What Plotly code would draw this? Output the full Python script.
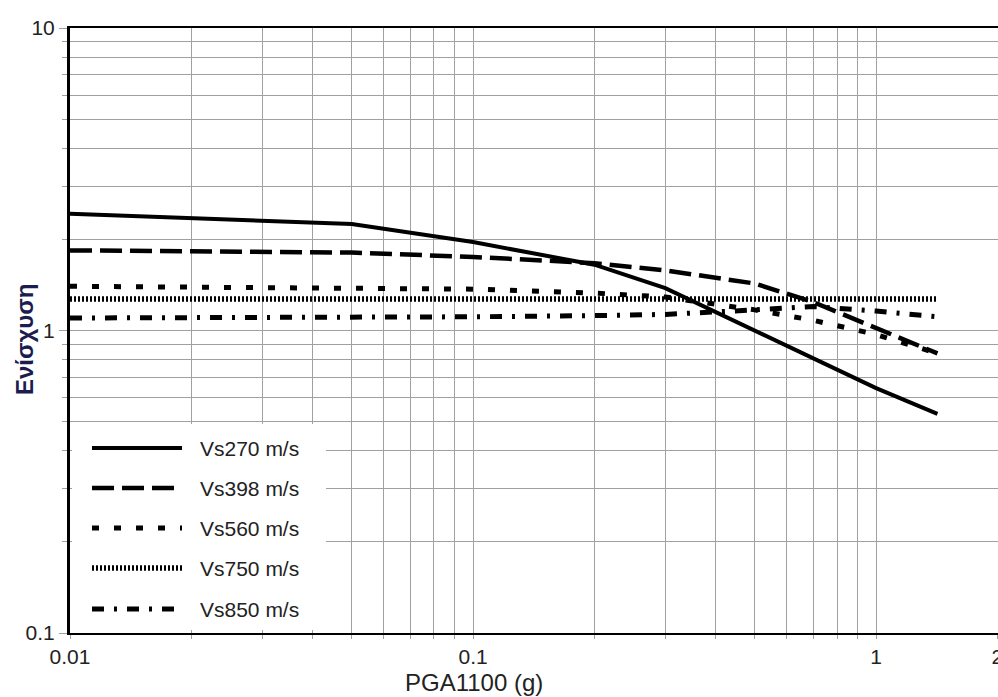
import numpy as np
import plotly.graph_objects as go

# PGA on rock (Vs = 1100 m/s), g
pga = [0.01, 0.02, 0.05, 0.1, 0.2, 0.3, 0.5, 0.7, 1.0, 1.42]

# Site amplification per Vs30 class
amp_vs270 = [2.43, 2.35, 2.25, 1.96, 1.65, 1.38, 1.00, 0.81, 0.645, 0.53]
amp_vs398 = [1.84, 1.83, 1.81, 1.75, 1.67, 1.58, 1.43, 1.24, 1.02, 0.84]
amp_vs560 = [1.40, 1.39, 1.38, 1.37, 1.33, 1.29, 1.17, 1.08, 0.97, 0.84]
amp_vs750 = [1.27, 1.27, 1.27, 1.27, 1.27, 1.27, 1.27, 1.27, 1.27, 1.27]
amp_vs850 = [1.10, 1.10, 1.10, 1.11, 1.12, 1.13, 1.17, 1.20, 1.16, 1.11]

series_names = ["Vs270 m/s", "Vs398 m/s", "Vs560 m/s", "Vs750 m/s", "Vs850 m/s"]
series_values = [amp_vs270, amp_vs398, amp_vs560, amp_vs750, amp_vs850]
series_dash = ["solid", "22px,8px", "7px,15px", "2px,2px", "12px,10px,3px,10px"]
series_width = [4, 4.5, 5, 5.5, 5]

x_ticks = [0.01, 0.1, 1, 2]
x_ticktext = ["0.01", "0.1", "1", "2"]
y_ticks = [0.1, 1, 10]
y_ticktext = ["0.1", "1", "10"]

FONT = "Liberation Sans, Arial, Helvetica, sans-serif"
GRID = "#a0a0a0"

fig = go.Figure()
for name, vals, dash, w in zip(series_names, series_values, series_dash, series_width):
    fig.add_trace(go.Scatter(
        x=pga, y=vals, name=name, mode="lines",
        line=dict(color="black", width=w, dash=dash),
        showlegend=False,
    ))

# minor grid positions (2..9 per decade)
x_minor = [m * 10.0 ** e for e in (-2, -1) for m in range(2, 10)]
y_minor = [m * 10.0 ** e for e in (-1, 0) for m in range(2, 10)]

fig.update_xaxes(
    type="log", range=[-2, 0.3025],
    tickmode="array", tickvals=x_ticks, ticktext=x_ticktext,
    ticklabeloverflow="allow", automargin=False,
    showgrid=True, gridcolor=GRID, gridwidth=1.2,
    ticks="outside", ticklen=4, tickcolor=GRID, tickwidth=1.2,
    showline=True, linecolor="black", linewidth=2, mirror=True,
    tickfont=dict(family=FONT, size=21, color="#222"),
    minor=dict(tickmode="array", tickvals=x_minor, showgrid=True,
               gridcolor=GRID, gridwidth=1.2, ticks="outside", ticklen=4,
               tickcolor=GRID, tickwidth=1.2),
    zeroline=False,
)
fig.update_yaxes(
    type="log", range=[-1, 1],
    tickmode="array", tickvals=y_ticks, ticktext=y_ticktext,
    automargin=False,
    showgrid=True, gridcolor=GRID, gridwidth=1.2,
    ticks="outside", ticklen=8, tickcolor=GRID, tickwidth=1.2,
    showline=True, linecolor="black", linewidth=3,
    tickfont=dict(family=FONT, size=21, color="#222"),
    minor=dict(tickmode="array", tickvals=y_minor, showgrid=True,
               gridcolor=GRID, gridwidth=1.2, ticks="outside", ticklen=5,
               tickcolor=GRID, tickwidth=1.2),
    zeroline=False,
)

# legend panel (paper coordinates within the plot area)
W, H, L, T = 998, 697, 70, 28
PW, PH = W - L, H - T - 64


def px(xp):
    return (xp - L) / PW


def py(yp):
    return (T + PH - yp) / PH


shapes = [dict(type="rect", xref="paper", yref="paper",
               x0=px(72), x1=px(326), y0=py(630), y1=py(424),
               fillcolor="white", line=dict(width=0), layer="above")]
annotations = []
row_y = [448, 488, 528, 568, 609]
for name, dash, w, ry in zip(series_names, series_dash, series_width, row_y):
    shapes.append(dict(type="line", xref="paper", yref="paper",
                       x0=px(92), x1=px(182), y0=py(ry), y1=py(ry),
                       line=dict(color="black", width=w, dash=dash),
                       layer="above"))
    annotations.append(dict(xref="paper", yref="paper", x=px(198), y=py(ry),
                            text=name, showarrow=False, xanchor="left",
                            yanchor="middle",
                            font=dict(family=FONT, size=21, color="#222")))

annotations.append(dict(xref="paper", yref="paper", x=px(474), y=py(682),
                        text="PGA1100 (g)", showarrow=False,
                        xanchor="center", yanchor="middle",
                        font=dict(family=FONT, size=24, color="#222")))
annotations.append(dict(xref="paper", yref="paper", x=px(24), y=py(340),
                        text="<b>Ενίσχυση</b>", showarrow=False, textangle=-90,
                        xanchor="center", yanchor="middle",
                        font=dict(family=FONT, size=24, color="#1c1c4e")))

fig.update_layout(
    width=W, height=H,
    margin=dict(l=L, r=0, t=T, b=64, autoexpand=False),
    paper_bgcolor="white", plot_bgcolor="white",
    shapes=shapes, annotations=annotations,
    showlegend=False,
)

fig.write_html("out.html")
